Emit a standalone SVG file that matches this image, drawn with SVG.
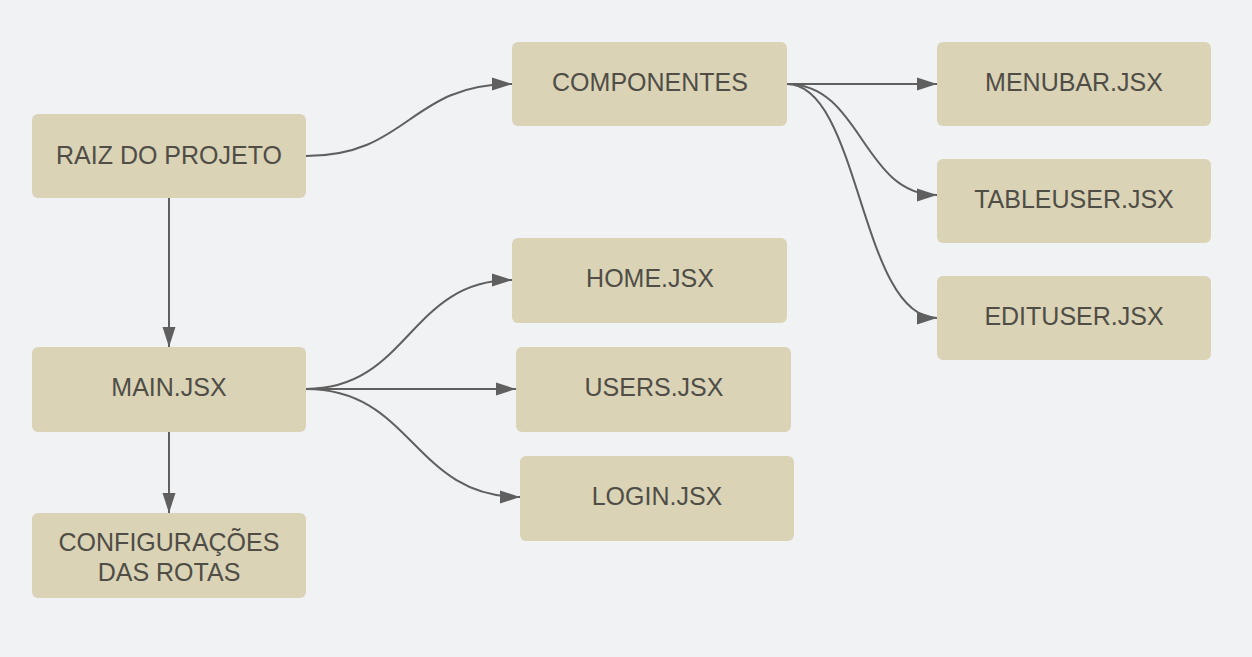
<svg xmlns="http://www.w3.org/2000/svg" width="1252" height="657" viewBox="0 0 1252 657">
  <style>
    .box { fill: #dad3b6; }
    .lbl { font-family: "Liberation Sans", Arial, sans-serif; font-size: 25px; fill: #4f4d46; text-anchor: middle; dominant-baseline: central; }
    .edge { fill: none; stroke: #5f5f5f; stroke-width: 2; marker-end: url(#arrow); }
  </style>
  <defs>
    <marker id="arrow" markerUnits="userSpaceOnUse" markerWidth="20" markerHeight="14" refX="20" refY="7" orient="auto">
      <path d="M0,0.5 L20,7 L0,13.5 z" fill="#5f5f5f"/>
    </marker>
  </defs>
  <rect width="1252" height="657" fill="#f1f2f4"/>
  <g id="connectors">
    <path class="edge" d="M306,156 C409,156 409,84 512,84"/>
    <path class="edge" d="M787,84 L937,84"/>
    <path class="edge" d="M787,84 C862,84 862,195 937,195"/>
    <path class="edge" d="M787,84 C860,84 860,318 937,318"/>
    <path class="edge" d="M169,198 L169,347"/>
    <path class="edge" d="M169,432 L169,513"/>
    <path class="edge" d="M306,389 C409,389 409,280 512,280"/>
    <path class="edge" d="M306,389 L516,389"/>
    <path class="edge" d="M306,389 C413,389 413,497 520,497"/>
  </g>
  <g id="raiz"><rect class="box" x="32" y="114" width="274" height="84" rx="6"/><text class="lbl" x="169" y="155">RAIZ DO PROJETO</text></g>
  <g id="componentes"><rect class="box" x="512" y="42" width="275" height="84" rx="6"/><text class="lbl" x="650" y="82">COMPONENTES</text></g>
  <g id="menubar"><rect class="box" x="937" y="42" width="274" height="84" rx="6"/><text class="lbl" x="1074" y="82">MENUBAR.JSX</text></g>
  <g id="tableuser"><rect class="box" x="937" y="159" width="274" height="84" rx="6"/><text class="lbl" x="1074" y="199">TABLEUSER.JSX</text></g>
  <g id="edituser"><rect class="box" x="937" y="276" width="274" height="84" rx="6"/><text class="lbl" x="1074" y="316">EDITUSER.JSX</text></g>
  <g id="main"><rect class="box" x="32" y="347" width="274" height="85" rx="6"/><text class="lbl" x="169" y="387">MAIN.JSX</text></g>
  <g id="home"><rect class="box" x="512" y="238" width="275" height="85" rx="6"/><text class="lbl" x="650" y="278">HOME.JSX</text></g>
  <g id="users"><rect class="box" x="516" y="347" width="275" height="85" rx="6"/><text class="lbl" x="654" y="387">USERS.JSX</text></g>
  <g id="login"><rect class="box" x="520" y="456" width="274" height="85" rx="6"/><text class="lbl" x="657" y="496">LOGIN.JSX</text></g>
  <g id="config"><rect class="box" x="32" y="513" width="274" height="85" rx="6"/><text class="lbl" x="169" y="542">CONFIGURAÇÕES</text><text class="lbl" x="169" y="572">DAS ROTAS</text></g>
</svg>
